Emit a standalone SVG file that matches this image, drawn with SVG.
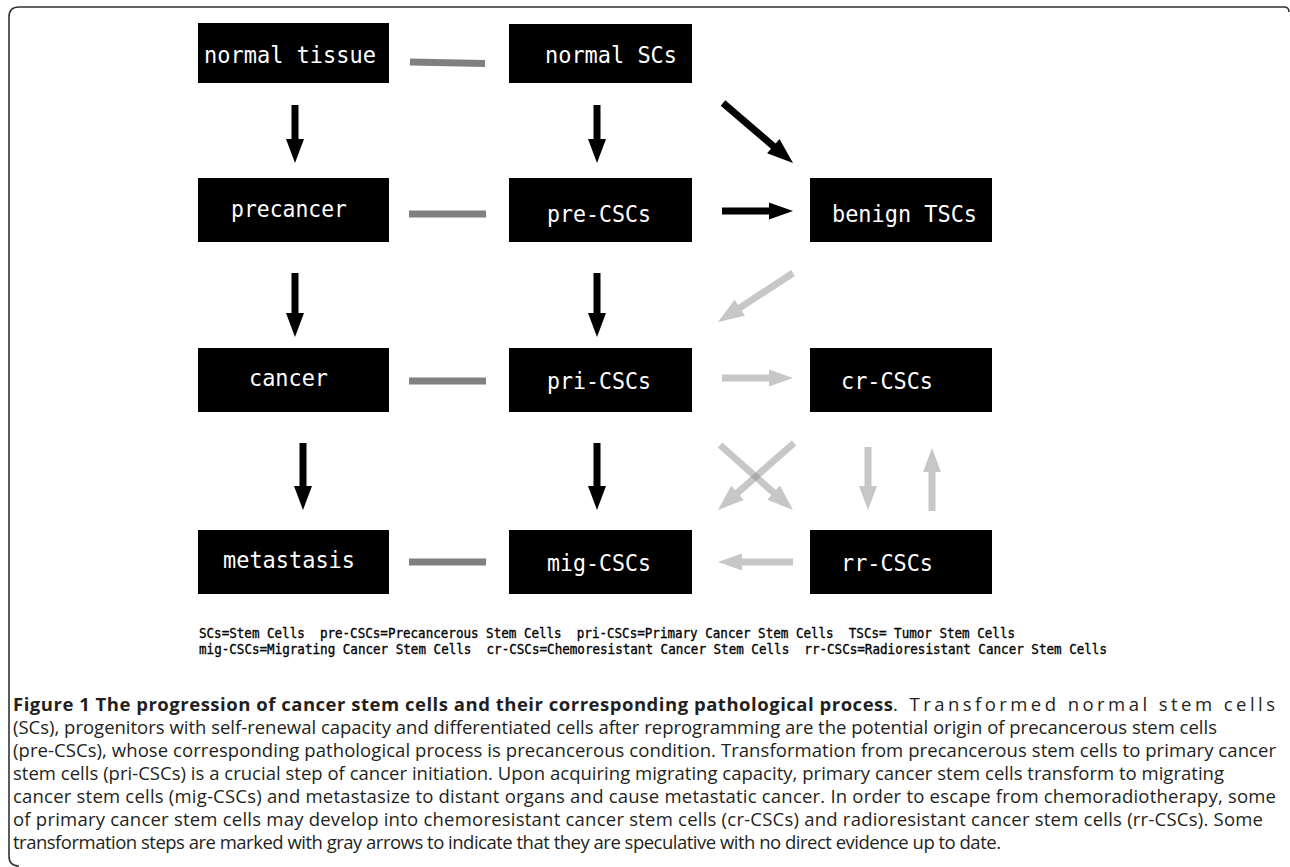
<svg xmlns="http://www.w3.org/2000/svg" width="1290" height="867" viewBox="0 0 1290 867">
<style>
.box{fill:#000;}
.lbl{font-family:"DejaVu Sans Mono","Liberation Mono",monospace;font-size:23px;fill:#fff;}
.leg{font-family:"DejaVu Sans Mono","Liberation Mono",monospace;font-size:14px;fill:#000;stroke:#000;stroke-width:0.35;white-space:pre;}
.cap{font-family:"Open Sans","Noto Sans",sans-serif;font-size:18.5px;fill:#231f20;white-space:pre;}
.capb{font-family:"Open Sans","Noto Sans",sans-serif;font-size:18.5px;font-weight:bold;fill:#231f20;white-space:pre;}
.blk{fill:#000;}
.gry{fill:#909090;fill-opacity:0.5;}
.lnk{stroke:#808080;stroke-width:7;fill:none;}
</style>
<rect width="1290" height="867" fill="#fff"/>
<path d="M1289 12 Q1289 7 1284 7 H19 Q9 7 9 17 V856 Q9 866 19 866" fill="none" stroke="#333" stroke-width="1.6"/>
<g id="connectors">
<line class="lnk" x1="410" y1="62" x2="485" y2="63.5"/>
<line class="lnk" x1="409" y1="214" x2="486" y2="214"/>
<line class="lnk" x1="409" y1="381" x2="486" y2="381"/>
<line class="lnk" x1="409" y1="562" x2="486" y2="562"/>
<polygon class="blk" points="291.5,105 298.5,105 298.5,139 304,139 295,163 286,139 291.5,139"/>
<polygon class="blk" points="593.5,105 600.5,105 600.5,139 606,139 597,163 588,139 593.5,139"/>
<polygon class="blk" points="291.5,273 298.5,273 298.5,313 304,313 295,337 286,313 291.5,313"/>
<polygon class="blk" points="593.5,273 600.5,273 600.5,313 606,313 597,337 588,313 593.5,313"/>
<polygon class="blk" points="299.5,443 306.5,443 306.5,486 312,486 303,510 294,486 299.5,486"/>
<polygon class="blk" points="593.5,443 600.5,443 600.5,486 606,486 597,510 588,486 593.5,486"/>
<polygon class="blk" points="725.3,100.3 775.6,143.4 779.5,138.9 793,163 767.1,153.3 771.0,148.8 720.7,105.7"/>
<polygon class="blk" points="722,207.5 769,207.5 769,202.5 793,211 769,219.5 769,214.5 722,214.5"/>
<polygon class="gry" points="791.1,270.1 737.9,304.9 734.6,299.8 718,322 745.0,315.8 741.7,310.7 794.9,275.9"/>
<polygon class="gry" points="722,374.5 769,374.5 769,369.5 793,378 769,386.5 769,381.5 722,381.5"/>
<polygon class="gry" points="722.3,442.4 775.9,490.1 779.9,485.6 793,510 767.3,499.8 771.3,495.3 717.7,447.6"/>
<polygon class="gry" points="791.7,440.4 735.2,490.2 731.2,485.7 718,510 743.8,499.9 739.8,495.4 796.3,445.6"/>
<polygon class="gry" points="864.5,447 871.5,447 871.5,486 877,486 868,510 859,486 864.5,486"/>
<polygon class="gry" points="928.5,511 935.5,511 935.5,472 941,472 932,448 923,472 928.5,472"/>
<polygon class="gry" points="793,558.5 742,558.5 742,553.5 718,562 742,570.5 742,565.5 793,565.5"/>
</g>
<g id="normal-tissue"><rect class="box" x="198" y="23" width="191" height="60"/><text class="lbl" x="204" y="63" textLength="172" lengthAdjust="spacingAndGlyphs">normal tissue</text></g>
<g id="normal-SCs"><rect class="box" x="509" y="24" width="183" height="59"/><text class="lbl" x="545" y="63" textLength="132" lengthAdjust="spacingAndGlyphs">normal SCs</text></g>
<g id="precancer"><rect class="box" x="198" y="178" width="191" height="64"/><text class="lbl" x="231" y="217" textLength="116" lengthAdjust="spacingAndGlyphs">precancer</text></g>
<g id="pre-CSCs"><rect class="box" x="509" y="178" width="183" height="64"/><text class="lbl" x="547" y="222" textLength="104" lengthAdjust="spacingAndGlyphs">pre-CSCs</text></g>
<g id="benign-TSCs"><rect class="box" x="810" y="178" width="182" height="64"/><text class="lbl" x="832" y="222" textLength="145" lengthAdjust="spacingAndGlyphs">benign TSCs</text></g>
<g id="cancer"><rect class="box" x="198" y="348" width="191" height="64"/><text class="lbl" x="249" y="386" textLength="79" lengthAdjust="spacingAndGlyphs">cancer</text></g>
<g id="pri-CSCs"><rect class="box" x="509" y="348" width="183" height="64"/><text class="lbl" x="547" y="389" textLength="104" lengthAdjust="spacingAndGlyphs">pri-CSCs</text></g>
<g id="cr-CSCs"><rect class="box" x="810" y="348" width="182" height="64"/><text class="lbl" x="841" y="389" textLength="92" lengthAdjust="spacingAndGlyphs">cr-CSCs</text></g>
<g id="metastasis"><rect class="box" x="198" y="530" width="191" height="64"/><text class="lbl" x="223" y="568" textLength="132" lengthAdjust="spacingAndGlyphs">metastasis</text></g>
<g id="mig-CSCs"><rect class="box" x="509" y="530" width="183" height="64"/><text class="lbl" x="547" y="571" textLength="104" lengthAdjust="spacingAndGlyphs">mig-CSCs</text></g>
<g id="rr-CSCs"><rect class="box" x="810" y="530" width="182" height="64"/><text class="lbl" x="841" y="571" textLength="92" lengthAdjust="spacingAndGlyphs">rr-CSCs</text></g>
<g id="legend">
<text class="leg" x="199" y="638" textLength="816" lengthAdjust="spacingAndGlyphs">SCs=Stem Cells  pre-CSCs=Precancerous Stem Cells  pri-CSCs=Primary Cancer Stem Cells  TSCs= Tumor Stem Cells</text>
<text class="leg" x="199" y="654" textLength="908" lengthAdjust="spacingAndGlyphs">mig-CSCs=Migrating Cancer Stem Cells  cr-CSCs=Chemoresistant Cancer Stem Cells  rr-CSCs=Radioresistant Cancer Stem Cells</text>
</g>
<g id="caption">
<text class="capb" x="13" y="711" textLength="880">Figure 1 The progression of cancer stem cells and their corresponding pathological process</text>
<text class="cap" x="893" y="711" textLength="382">. Transformed normal stem cells</text>
<text class="cap" x="13" y="734" textLength="1204">(SCs), progenitors with self-renewal capacity and differentiated cells after reprogramming are the potential origin of precancerous stem cells</text>
<text class="cap" x="13" y="757" textLength="1263">(pre-CSCs), whose corresponding pathological process is precancerous condition. Transformation from precancerous stem cells to primary cancer</text>
<text class="cap" x="13" y="780" textLength="1211">stem cells (pri-CSCs) is a crucial step of cancer initiation. Upon acquiring migrating capacity, primary cancer stem cells transform to migrating</text>
<text class="cap" x="13" y="803" textLength="1263">cancer stem cells (mig-CSCs) and metastasize to distant organs and cause metastatic cancer. In order to escape from chemoradiotherapy, some</text>
<text class="cap" x="13" y="826" textLength="1250">of primary cancer stem cells may develop into chemoresistant cancer stem cells (cr-CSCs) and radioresistant cancer stem cells (rr-CSCs). Some</text>
<text class="cap" x="13" y="849" textLength="988">transformation steps are marked with gray arrows to indicate that they are speculative with no direct evidence up to date.</text>
</g>
</svg>
